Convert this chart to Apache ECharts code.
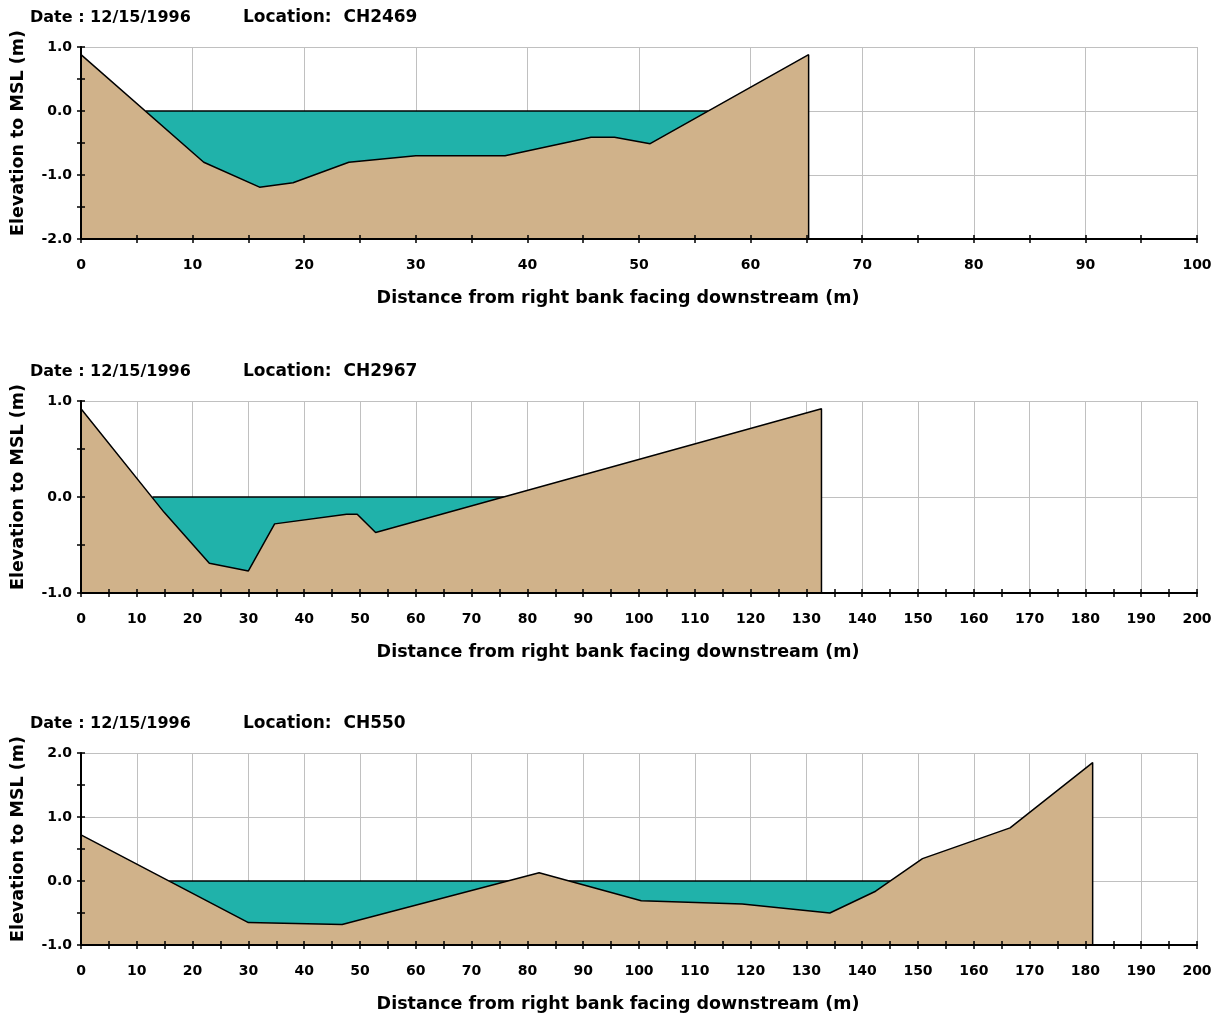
<!DOCTYPE html>
<html>
<head>
<meta charset="utf-8">
<script src="https://cdn.jsdelivr.net/npm/echarts@6/dist/echarts.min.js"></script>
<style>
  html, body { margin: 0; padding: 0; background: #ffffff; }
  #chart { width: 1219px; height: 1014px; }
</style>
</head>
<body>
<div id="chart"></div>
<script>
// Survey metadata
const surveyDate = '12/15/1996';
const locationNames = ['CH2469', 'CH2967', 'CH550'];

// Cross-section CH2469: distance (m) and bed elevation (m, MSL)
const ch2469Distance = [0, 11, 16, 19, 24, 30, 38, 45.7, 47.8, 51, 65.2, 65.2];
const ch2469Elevation = [0.88, -0.8, -1.19, -1.12, -0.8, -0.7, -0.7, -0.41, -0.41, -0.51, 0.88, -2.0];
const ch2469WaterEdges = [5.8, 56.2];

// Cross-section CH2967
const ch2967Distance = [0, 14.9, 23, 30, 34.7, 47.6, 49.5, 52.8, 132.7, 132.7];
const ch2967Elevation = [0.92, -0.16, -0.69, -0.77, -0.28, -0.18, -0.18, -0.37, 0.92, -1.0];
const ch2967WaterEdges = [12.8, 75.8];

// Cross-section CH550
const ch550Distance = [0, 30, 46.8, 82.1, 100.4, 118.5, 134.2, 142.4, 150.8, 166.5, 181.3, 181.3];
const ch550Elevation = [0.72, -0.65, -0.68, 0.13, -0.31, -0.36, -0.5, -0.16, 0.35, 0.83, 1.85, -1.0];
const ch550WaterEdges = [15.8, 145.0];

// Water surface level (m, MSL)
const waterLevel = 0;

// Axis ranges per section: [xMax, yMin, yMax]
const ch2469Range = [100, -2, 1];
const ch2967Range = [200, -1, 1];
const ch550Range = [200, -1, 2];

const xAxisTitle = 'Distance from right bank facing downstream (m)';
const yAxisTitle = 'Elevation to MSL (m)';

const FONT = '"DejaVu Sans", "Liberation Sans", Arial, sans-serif';
const GROUND = '#D0B28A';
const WATER = '#20B2AA';
const GRIDLINE = '#C0C0C0';

const sections = [
  { dist: ch2469Distance, elev: ch2469Elevation, water: ch2469WaterEdges, range: ch2469Range, top: 47 },
  { dist: ch2967Distance, elev: ch2967Elevation, water: ch2967WaterEdges, range: ch2967Range, top: 401 },
  { dist: ch550Distance, elev: ch550Elevation, water: ch550WaterEdges, range: ch550Range, top: 753 }
];

const option = {
  animation: false,
  backgroundColor: '#ffffff',
  grid: [], xAxis: [], yAxis: [], series: [], graphic: []
};

const tickLine = { color: '#000', width: 1.5 };

sections.forEach((s, i) => {
  const [xMax, yMin, yMax] = s.range;
  option.grid.push({ left: 81, right: 22, top: s.top, height: 192 });

  const xBase = { type: 'value', gridIndex: i, position: 'bottom', offset: 0, min: 0, max: xMax, interval: 10 };
  const yBase = { type: 'value', gridIndex: i, position: 'left', offset: 0, min: yMin, max: yMax, interval: 1 };

  // Axis carrying the series, labels, gridlines and title (drawn beneath the fills)
  const xi = option.xAxis.length;
  option.xAxis.push(Object.assign({}, xBase, {
    axisLine: { show: false, onZero: false },
    axisTick: { show: false },
    splitLine: { show: true, lineStyle: { color: GRIDLINE, width: 1 } },
    axisLabel: { margin: 19, color: '#000', fontFamily: FONT, fontWeight: 'bold', fontSize: 14 },
    name: xAxisTitle, nameLocation: 'middle', nameGap: 50,
    nameTextStyle: { color: '#000', fontFamily: FONT, fontWeight: 'bold', fontSize: 17.5, padding: [0, 42, 0, 0] }
  }));
  // Axis line with outward ticks
  option.xAxis.push(Object.assign({}, xBase, {
    z: 10,
    axisLine: { show: true, onZero: false, lineStyle: { color: '#000', width: 2 } },
    axisTick: { show: true, length: 4, lineStyle: tickLine },
    minorTick: { show: true, splitNumber: 2, length: 4, lineStyle: tickLine },
    splitLine: { show: false }, axisLabel: { show: false }
  }));
  // Inward ticks, so the marks cross the axis
  option.xAxis.push(Object.assign({}, xBase, {
    z: 10,
    axisLine: { show: false, onZero: false },
    axisTick: { show: true, inside: true, length: 4, lineStyle: tickLine },
    minorTick: { show: true, splitNumber: 2, length: 4, lineStyle: tickLine },
    splitLine: { show: false }, axisLabel: { show: false }
  }));

  const yi = option.yAxis.length;
  option.yAxis.push(Object.assign({}, yBase, {
    axisLine: { show: false, onZero: false },
    axisTick: { show: false },
    splitLine: { show: true, lineStyle: { color: GRIDLINE, width: 1 } },
    axisLabel: { margin: 9, color: '#000', fontFamily: FONT, fontWeight: 'bold', fontSize: 14,
      formatter: v => v.toFixed(1) },
    name: yAxisTitle, nameLocation: 'middle', nameGap: 54,
    nameTextStyle: { color: '#000', fontFamily: FONT, fontWeight: 'bold', fontSize: 17.5, padding: [0, 0, 0, 20] }
  }));
  option.yAxis.push(Object.assign({}, yBase, {
    z: 10,
    axisLine: { show: true, onZero: false, lineStyle: { color: '#000', width: 2 } },
    axisTick: { show: true, length: 4, lineStyle: tickLine },
    minorTick: { show: true, splitNumber: 2, length: 4, lineStyle: tickLine },
    splitLine: { show: false }, axisLabel: { show: false }
  }));
  option.yAxis.push(Object.assign({}, yBase, {
    z: 10,
    axisLine: { show: false, onZero: false },
    axisTick: { show: true, inside: true, length: 4, lineStyle: tickLine },
    minorTick: { show: true, splitNumber: 2, length: 4, lineStyle: tickLine },
    splitLine: { show: false }, axisLabel: { show: false }
  }));

  // Water body: surface line at the water level, filled down to the axis floor
  option.series.push({
    type: 'line', xAxisIndex: xi, yAxisIndex: yi, z: 2,
    symbol: 'none', silent: true,
    data: s.water.map(x => [x, waterLevel]),
    lineStyle: { color: '#000', width: 1.4 },
    areaStyle: { color: WATER, opacity: 1, origin: 'start' }
  });
  // Ground profile drawn over the water
  option.series.push({
    type: 'line', xAxisIndex: xi, yAxisIndex: yi, z: 3,
    symbol: 'none', silent: true,
    data: s.dist.map((x, k) => [x, s.elev[k]]),
    lineStyle: { color: '#000', width: 1.5 },
    areaStyle: { color: GROUND, opacity: 1, origin: 'start' }
  });

  const titleY = s.top - 29;
  option.graphic.push({
    type: 'text', x: 30, y: titleY,
    style: { text: 'Date : ' + surveyDate, font: 'bold 16px ' + FONT, fill: '#000', verticalAlign: 'middle' }
  });
  option.graphic.push({
    type: 'text', x: 243, y: titleY,
    style: { text: 'Location:  ' + locationNames[i], font: 'bold 17px ' + FONT, fill: '#000', verticalAlign: 'middle' }
  });
});

const chart = echarts.init(document.getElementById('chart'), null, { renderer: 'canvas' });
chart.setOption(option);
</script>
</body>
</html>
